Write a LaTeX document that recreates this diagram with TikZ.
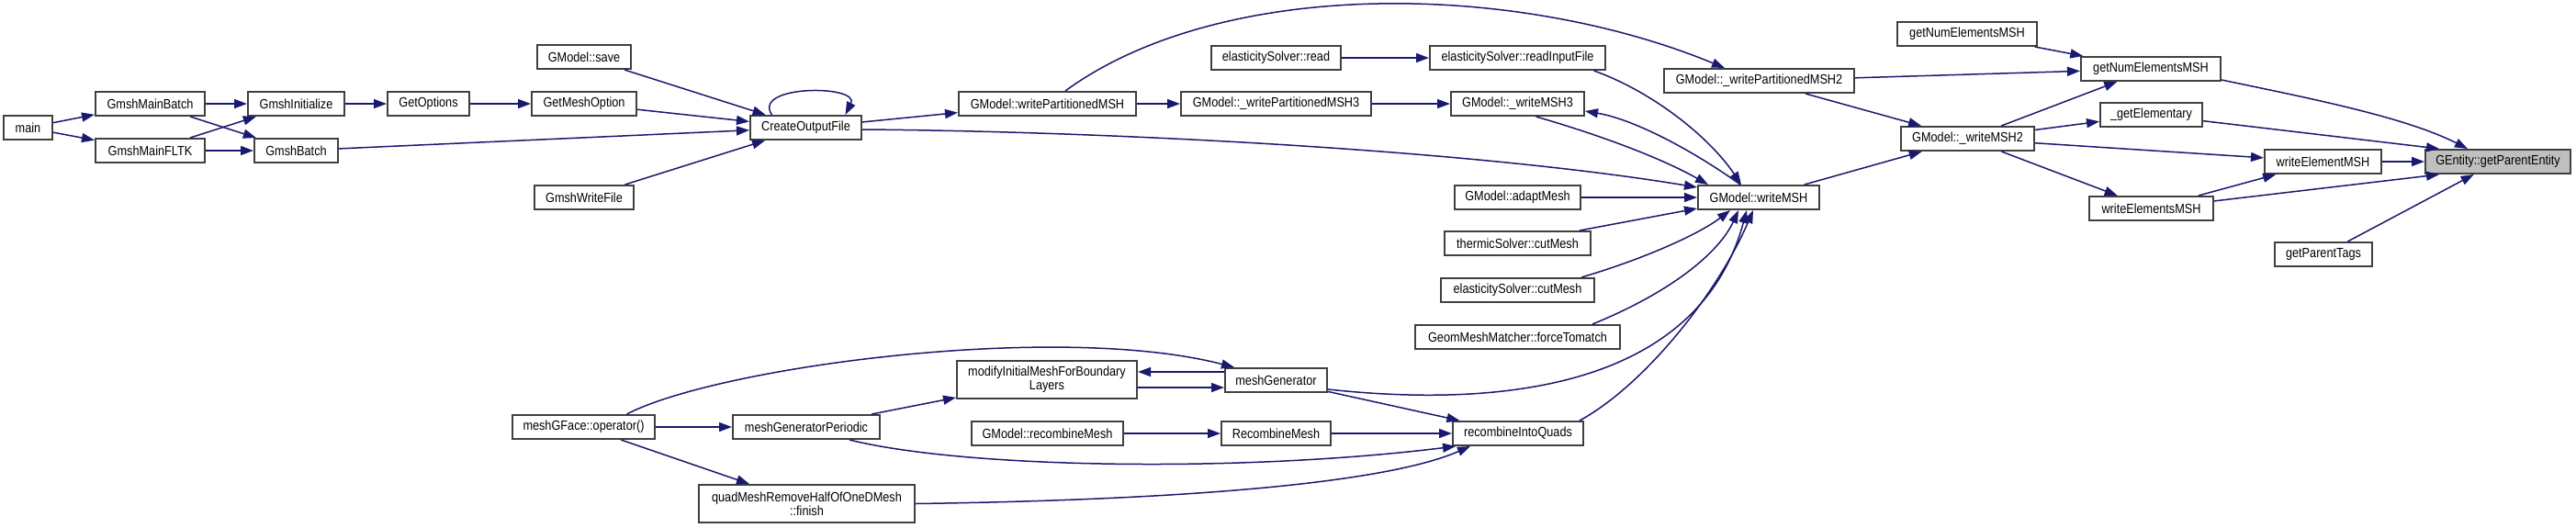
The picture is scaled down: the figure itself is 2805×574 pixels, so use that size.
\documentclass[tikz,border=0pt]{standalone}
\usepackage{fontspec}
\setmainfont{Liberation Sans}[FakeStretch=0.87]
\usetikzlibrary{arrows.meta,calc}
\definecolor{edgec}{HTML}{191970}
\definecolor{nodeb}{HTML}{404040}
\definecolor{hlf}{HTML}{BFBFBF}
\begin{document}
\begin{tikzpicture}[x=0.5pt,y=-0.5pt,
  bx/.style={draw=nodeb,line width=1pt,fill=white,inner sep=0pt,minimum height=13pt,
    font=\fontsize{7.3}{7.4}\selectfont,align=center},
  tall/.style={minimum height=20.5pt},
  ed/.style={draw=edgec,line width=0.75pt,-{Triangle[length=7pt,width=5pt]}}]
\useasboundingbox[fill=white] (0,0) rectangle (2805,574);

% nodes
\node[bx,minimum width=26.5pt] (main) at (30.5,139) {main};
\node[bx,minimum width=59.5pt] (gmb) at (163.5,113) {GmshMainBatch};
\node[bx,minimum width=59.5pt] (gmf) at (163.5,164) {GmshMainFLTK};
\node[bx,minimum width=52.5pt] (gin) at (322.5,113) {GmshInitialize};
\node[bx,minimum width=45.5pt] (gba) at (322.5,164) {GmshBatch};
\node[bx,minimum width=44.5pt] (gop) at (466.5,113) {GetOptions};
\node[bx,minimum width=57pt] (gmo) at (636,113) {GetMeshOption};
\node[bx,minimum width=51pt] (gsv) at (636,62) {GModel::save};
\node[bx,minimum width=54pt] (gwf) at (636,215) {GmshWriteFile};
\node[bx,minimum width=60.5pt] (cof) at (877.5,139) {CreateOutputFile};
\node[bx,minimum width=96.5pt] (wpm) at (1140.5,113) {GModel::writePartitionedMSH};
\node[bx,minimum width=103.5pt] (wp3) at (1389.5,113) {GModel::\_writePartitionedMSH3};
\node[bx,minimum width=70.5pt] (esr) at (1389.5,63) {elasticitySolver::read};
\node[bx,minimum width=95.5pt] (rif) at (1652.5,63) {elasticitySolver::readInputFile};
\node[bx,minimum width=72.5pt] (mw3) at (1652.5,113) {GModel::\_writeMSH3};
\node[bx,minimum width=68.5pt] (adm) at (1652.5,215) {GModel::adaptMesh};
\node[bx,minimum width=79.5pt] (tcm) at (1652.5,265) {thermicSolver::cutMesh};
\node[bx,minimum width=83.5pt] (ecm) at (1652.5,316) {elasticitySolver::cutMesh};
\node[bx,minimum width=111.5pt] (gmm) at (1652.5,367) {GeomMeshMatcher::forceTomatch};
\node[bx,minimum width=103.5pt] (wp2) at (1915.5,88) {GModel::\_writePartitionedMSH2};
\node[bx,minimum width=66pt] (wmsh) at (1915,215) {GModel::writeMSH};
\node[bx,minimum width=72.5pt] (mw2) at (2142.5,151) {GModel::\_writeMSH2};
\node[bx,minimum width=76pt] (ne1) at (2142,37) {getNumElementsMSH};
\node[bx,minimum width=76pt] (ne2) at (2342,75) {getNumElementsMSH};
\node[bx,minimum width=55.5pt] (gel) at (2342.5,125) {\_getElementary};
\node[bx,minimum width=67.5pt] (wes) at (2342.5,227) {writeElementsMSH};
\node[bx,minimum width=63.5pt] (wem) at (2529.5,176) {writeElementMSH};
\node[bx,minimum width=53pt] (gpt) at (2530,277) {getParentTags};
\node[bx,minimum width=79pt,fill=hlf] (gent) at (2720,176) {GEntity::getParentEntity};
\node[bx,tall,minimum width=98pt] (mod) at (1140,413.5) {modifyInitialMeshForBoundary\\Layers};
\node[bx,minimum width=55.5pt] (mg) at (1389.5,414) {meshGenerator};
\node[bx,minimum width=77.5pt] (mgf) at (635.5,465) {meshGFace::operator()};
\node[bx,minimum width=80pt] (mgp) at (878,465) {meshGeneratorPeriodic};
\node[bx,minimum width=82.5pt] (grm) at (1140.5,472) {GModel::recombineMesh};
\node[bx,minimum width=59.5pt] (rcm) at (1389.5,472) {RecombineMesh};
\node[bx,minimum width=71pt] (rq) at (1653,472) {recombineIntoQuads};
\node[bx,tall,minimum width=117.5pt] (qm) at (878.5,548.5) {quadMeshRemoveHalfOfOneDMesh\\::finish};

% edges (left part)
\draw[ed] (main) -- (gmb);
\draw[ed] (main) -- (gmf);
\draw[ed] (gmb) -- (gin);
\draw[ed] (gmb) -- (gba);
\draw[ed] (gmf) -- (gin);
\draw[ed] (gmf) -- (gba);
\draw[ed] (gin) -- (gop);
\draw[ed] (gop) -- (gmo);
\draw[ed] (gmo) -- (cof);
\draw[ed] (gsv) -- (cof);
\draw[ed] (gba) -- (cof);
\draw[ed] (gwf) -- (cof);
\draw[ed] ($(cof.north)+(-37,0)$) .. controls (818,92) and (937,92) .. ($(cof.north)+(43,0)$);
\draw[ed] (cof) -- (wpm);
\draw[ed] ($(cof.east)+(0,2)$) .. controls (1200,143) and (1600,163) .. ($(wmsh.west)+(0,-11)$);
\draw[ed] (wpm) -- (wp3);
\draw[ed] ($(wpm.north)+(19.5,0)$) .. controls (1330,-25) and (1650,-20) .. ($(wp2.north)+(-37.5,0)$);
\draw[ed] (wp3) -- (mw3);
\draw[ed] (esr) -- (rif);

% into writeMSH
\draw[ed] ($(rif.south)+(83,0)$) .. controls (1800,100) and (1862,150) .. ($(wmsh.north)+(-19,0)$);
\draw[ed] ($(mw3.south)+(20,0)$) .. controls (1735,145) and (1805,170) .. ($(wmsh.north)+(-55,0)$);
\draw[ed] ($(wmsh.north)+(-20,0)$) .. controls (1845,165) and (1780,130) .. ($(mw3.east)+(0,8)$);
\draw[ed] (adm) -- (wmsh);
\draw[ed] ($(tcm.north east)+(-13,0)$) -- ($(wmsh.west)+(0,12)$);
\draw[ed] ($(ecm.north east)+(-15,0)$) .. controls (1790,282) and (1850,255) .. ($(wmsh.south)+(-31,0)$);
\draw[ed] ($(gmm.north east)+(-31,0)$) .. controls (1820,318) and (1872,275) .. ($(wmsh.south)+(-22,0)$);
\draw[ed] ($(mg.east)+(0,10)$) .. controls (1640,445) and (1850,420) .. ($(wmsh.south)+(-13,0)$);
\draw[ed] ($(rq.north east)+(-5,0)$) .. controls (1790,420) and (1870,320) .. ($(wmsh.south)+(-6,0)$);

% right part
\draw[ed] (wmsh) -- (mw2);
\draw[ed] (wp2) -- (mw2);
\draw[ed] (wp2) -- (ne2);
\draw[ed] (ne1) -- (ne2);
\draw[ed] (mw2) -- (ne2);
\draw[ed] (mw2) -- (gel);
\draw[ed] (mw2) -- (wem);
\draw[ed] (mw2) -- (wes);
\draw[ed] ($(ne2.east)+(0,12)$) .. controls (2520,108) and (2620,128) .. ($(gent.north west)+(47,0)$);
\draw[ed] (gel) -- ($(gent.north west)+(16,0)$);
\draw[ed] (wem) -- (gent);
\draw[ed] (wes) -- (wem);
\draw[ed] (wes) -- ($(gent.south west)+(16,0)$);
\draw[ed] (gpt) -- (gent);

% lower part
\draw[ed] ($(mgf.north)+(47,0)$) .. controls (780,400) and (1150,350) .. ($(mg.north west)+(11,0)$);
\draw[ed] (mgf) -- (mgp);
\draw[ed] (mgf) -- (qm);
\draw[ed] (mgp) -- (mod);
\draw[ed] ($(mgp.south)+(47,0)$) .. controls (1050,510) and (1350,515) .. ($(rq.south west)+(4,0)$);
\draw[ed] (qm.east) .. controls (1250,545) and (1500,530) .. ($(rq.south west)+(20,0)$);
\draw[ed] ($(mod.east)+(0,8.5)$) -- ($(mg.west)+(0,8)$);
\draw[ed] ($(mg.west)+(0,-9)$) -- ($(mod.east)+(0,-8.5)$);
\draw[ed] (mg) -- (rq);
\draw[ed] (grm) -- (rcm);
\draw[ed] (rcm) -- (rq);
\end{tikzpicture}
\end{document}
